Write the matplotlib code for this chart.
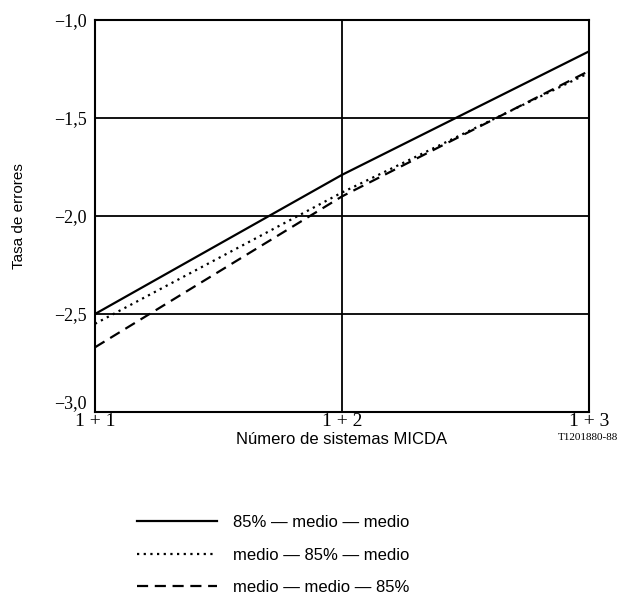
import matplotlib.pyplot as plt
from matplotlib.lines import Line2D

# data
sistemas = [1, 2, 3]
x_labels = ["1 + 1", "1 + 2", "1 + 3"]
y_ticks = [-3.0, -2.5, -2.0, -1.5, -1.0]
y_labels = ["\u22123,0", "\u22122,5", "\u22122,0", "\u22121,5", "\u22121,0"]

serie_85_medio_medio = [-2.50, -1.79, -1.16]
serie_medio_85_medio = [-2.55, -1.88, -1.27]
serie_medio_medio_85 = [-2.67, -1.90, -1.26]

labels = ["85% \u2014 medio \u2014 medio",
          "medio \u2014 85% \u2014 medio",
          "medio \u2014 medio \u2014 85%"]

fig = plt.figure(figsize=(6.19, 6.07), dpi=100)
ax = fig.add_axes([0.1535, 0.3213, 0.798, 0.6457])

styles = ['-', (0, (1, 2)), (0, (5, 3))]
series = [serie_85_medio_medio, serie_medio_85_medio, serie_medio_medio_85]
for s, ls in zip(series, styles):
    ax.plot(sistemas, s, color='black', linestyle=ls, linewidth=1.6)

ax.set_xlim(1, 3)
ax.set_ylim(-3.0, -1.0)
ax.set_xticks(sistemas)
ax.set_xticklabels(x_labels, family='Liberation Serif', fontsize=14)
ax.set_yticks(y_ticks)
ax.set_yticklabels(y_labels, family='Liberation Serif', fontsize=13)
ax.tick_params(length=0, pad=6)
ax.tick_params(axis='x', pad=1)
ax.get_yticklabels()[0].set_va('bottom')

for yv in [-1.5, -2.0, -2.5]:
    ax.axhline(yv, color='black', linewidth=1.3)
ax.axvline(2, color='black', linewidth=1.3)
for sp in ax.spines.values():
    sp.set_linewidth(1.5)

ax.set_ylabel("Tasa de errores", family='Liberation Sans', fontsize=11, labelpad=20)
ax.set_xlabel("N\u00famero de sistemas MICDA", family='Liberation Sans', fontsize=12, labelpad=1)
fig.text(0.998, 0.279, "T1201880-88", family='Liberation Serif', fontsize=8, ha='right', va='center')

handles = [Line2D([], [], color='black', linestyle=ls, linewidth=1.6) for ls in styles]
fig.legend(handles, labels, loc='upper left', bbox_to_anchor=(0.21, 0.162),
           frameon=False, handlelength=4.8, handletextpad=1.0, labelspacing=1.05,
           prop={'family': 'Liberation Sans', 'size': 12}, borderaxespad=0)

fig.savefig("out.png", dpi=100)
